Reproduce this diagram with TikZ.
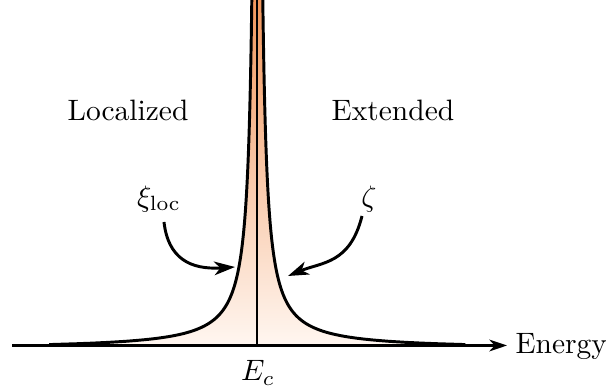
\documentclass[tikz,border=0pt]{standalone}
\usetikzlibrary{arrows.meta}
\definecolor{peaktop}{RGB}{240,148,88}
\definecolor{peakbot}{RGB}{255,246,240}
\begin{document}
\begin{tikzpicture}[x=0.339pt,y=-0.339pt,
  curve/.style={line width=1pt},
  axisline/.style={line width=0.75pt},
  axtip/.style={-{Stealth[length=6pt,width=4pt,inset=1.8pt]}},
  pointer/.style={line width=1pt,-{Stealth[length=7pt,width=4.6pt,inset=2pt]}},
  lbl/.style={inner sep=0pt}]
\useasboundingbox (0,0) rectangle (606,392);
\begin{scope}
\clip (0,0) rectangle (606,392);
\shade[top color=peaktop,bottom color=peakbot]
  plot[domain=3.633:-0.03,samples=140,variable=\t] ({257.3-5.5*exp(\t)},{345.5-(349*exp(-1.2*\t)-3.5)})
  -- plot[domain=-0.03:3.633,samples=140,variable=\t] ({257.3+5.5*exp(\t)},{345.5-(349*exp(-1.2*\t)-3.5)})
  -- cycle;
\coordinate (vbot) at (257.3,345.5);
\coordinate (vtop) at (257.3,-5);
\draw[axisline] (vbot) -- (vtop);
\draw[curve] plot[domain=3.633:-0.03,samples=140,variable=\t] ({257.3-5.5*exp(\t)},{345.5-(349*exp(-1.2*\t)-3.5)});
\draw[curve] plot[domain=3.633:-0.03,samples=140,variable=\t] ({257.3+5.5*exp(\t)},{345.5-(349*exp(-1.2*\t)-3.5)});
\end{scope}
\coordinate (ax0) at (12,345.5);
\coordinate (ax1) at (507,345.5);
\draw[axisline,axtip] (ax0) -- (ax1);
\node[anchor=base west,inner sep=0pt] (en) at (515,354) {Energy};
\node[lbl] (ec) at (258,373) {$E_c$};
\node[lbl] (loc) at (128,110) {Localized};
\node[lbl] (ext) at (393,110) {Extended};
\node[lbl] (xi) at (159,199) {$\xi_{\mathrm{loc}}$};
\node[lbl] (zeta) at (369,199) {$\zeta$};
\coordinate (xis) at (164,222);
\coordinate (xie) at (235,267);
\draw[pointer] (xis) .. controls (168,258) and (190,270) .. (xie);
\coordinate (zs) at (362,216);
\coordinate (ze) at (288,276);
\draw[pointer] (zs) .. controls (350,264) and (322,262) .. (ze);
\end{tikzpicture}
\end{document}
